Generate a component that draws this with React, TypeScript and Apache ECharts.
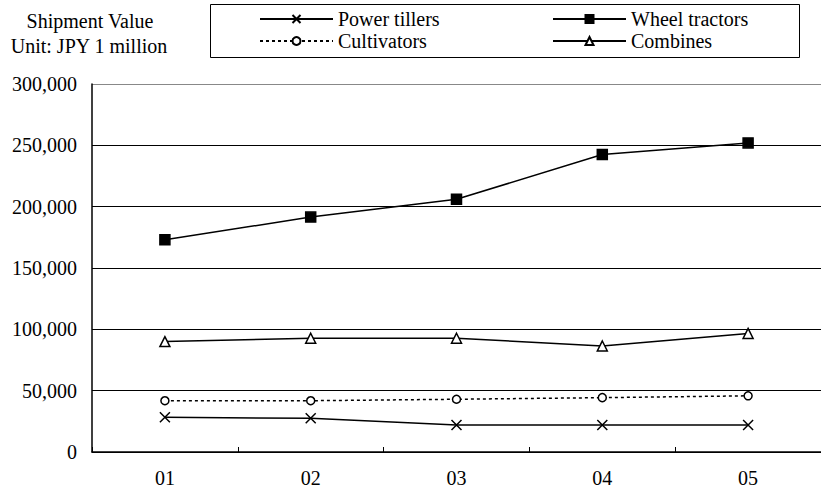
import React, { useEffect, useRef } from "react";
import * as echarts from "echarts";

const categories = ["01", "02", "03", "04", "05"];
const powerTillers = [28300, 27500, 22000, 22000, 22000];
const wheelTractors = [173000, 191500, 206000, 242500, 252000];
const cultivators = [41800, 41800, 43000, 44300, 45800];
const combines = [90000, 92700, 92700, 86400, 96700];
const yTicks = [0, 50000, 100000, 150000, 200000, 250000, 300000];

const FONT = "Liberation Serif";
const FS = 20;

const crossPath = "path://M0,0L10,10M10,0L0,10";

export default function App() {
  const ref = useRef<HTMLDivElement>(null);
  useEffect(() => {
    if (!ref.current) return;
    const chart = echarts.init(ref.current, null, { renderer: "svg" });
    const baseLine = (name: string, data: number[], symbol: string, size: number, fill: string, type: any) => ({
      name,
      type: "line",
      data,
      symbol,
      symbolSize: size,
      showSymbol: true,
      itemStyle: { color: fill, borderColor: "#000", borderWidth: 1.5 },
      lineStyle: { color: "#000", width: 1.5, type },
      emphasis: { disabled: true },
      z: 3,
    });
    const legendCommon = {
      orient: "horizontal",
      padding: 0,
      itemWidth: 73,
      itemHeight: 10,
      itemGap: 0,
      selectedMode: false,
      textStyle: { fontFamily: FONT, fontSize: FS, color: "#000" },
    };
    chart.setOption({
      animation: false,
      backgroundColor: "#fff",
      textStyle: { fontFamily: FONT },
      grid: { left: 92, top: 84, width: 739, height: 368, containLabel: false },
      xAxis: {
        type: "category",
        data: categories,
        boundaryGap: true,
        axisLine: { lineStyle: { color: "#000", width: 1.5 } },
        axisTick: { show: true, inside: true, length: 5, lineStyle: { color: "#000" } },
        axisLabel: { fontFamily: FONT, fontSize: FS, color: "#000", margin: 16 },
        splitLine: { show: false },
      },
      yAxis: {
        type: "value",
        min: 0,
        max: 300000,
        interval: 50000,
        axisLine: { show: true, lineStyle: { color: "#000", width: 1.5 } },
        axisTick: { show: false },
        axisLabel: {
          fontFamily: FONT,
          fontSize: FS,
          color: "#000",
          margin: 15,
          formatter: (v: number) => (yTicks.includes(v) ? v.toLocaleString("en-US") : ""),
        },
        splitLine: {
          show: true,
          lineStyle: { color: ["#000", "#000", "#000", "#000", "#000", "#000", "#888"], width: 1.2 },
        },
      },
      legend: [
        { ...legendCommon, left: 259, top: 9, data: ["Power tillers"] },
        { ...legendCommon, left: 552, top: 9, data: ["Wheel tractors"] },
        { ...legendCommon, left: 259, top: 31, data: ["Cultivators"] },
        { ...legendCommon, left: 552, top: 31, data: ["Combines"] },
      ],
      graphic: [
        {
          type: "rect",
          shape: { x: 210.5, y: 4.5, width: 589, height: 53 },
          style: { fill: "none", stroke: "#000", lineWidth: 1 },
        },
        {
          type: "text",
          x: 90,
          y: 21,
          style: { text: "Shipment Value", fontFamily: FONT, fontSize: FS, fill: "#000", align: "center", verticalAlign: "middle" },
        },
        {
          type: "text",
          x: 89,
          y: 46,
          style: { text: "Unit: JPY 1 million", fontFamily: FONT, fontSize: FS, fill: "#000", align: "center", verticalAlign: "middle" },
        },
      ],
      series: [
        baseLine("Power tillers", powerTillers, crossPath, 10, "#fff", "solid"),
        baseLine("Wheel tractors", wheelTractors, "rect", 10, "#000", "solid"),
        baseLine("Cultivators", cultivators, "circle", 8, "#fff", [3, 3]),
        baseLine("Combines", combines, "triangle", 10, "#fff", "solid"),
      ],
    });
    return () => chart.dispose();
  }, []);
  return <div ref={ref} style={{ position: "fixed", left: 0, top: 0, width: 821, height: 490 }} />;
}
